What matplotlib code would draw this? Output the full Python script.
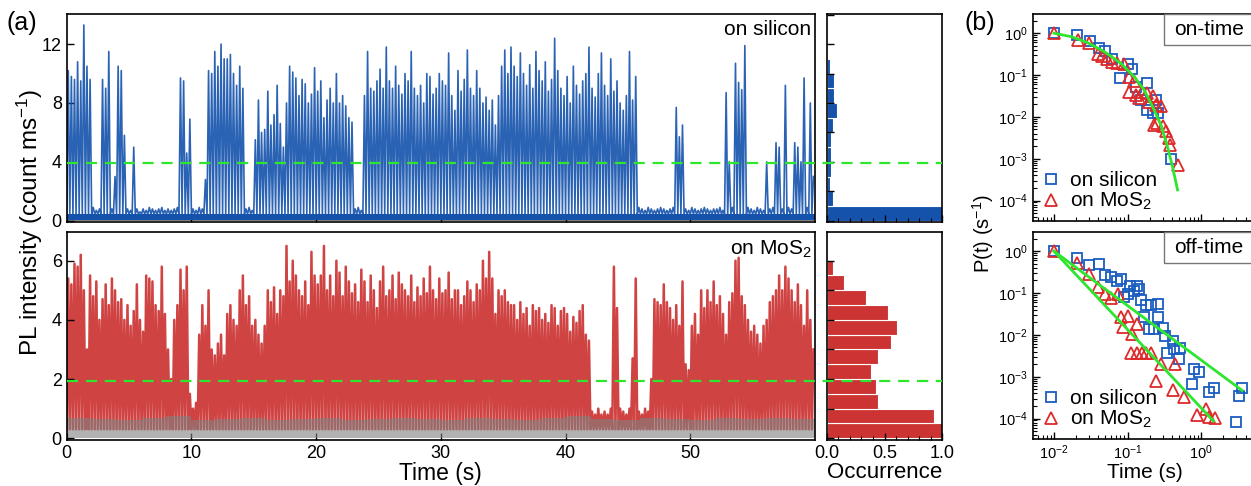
import numpy as np
import matplotlib
matplotlib.use("Agg")
import matplotlib.pyplot as plt
from matplotlib.ticker import MultipleLocator, LogLocator, NullFormatter
from matplotlib.patches import Rectangle

plt.rcParams['font.family'] = ['Liberation Sans', 'DejaVu Sans']
plt.rcParams['mathtext.fontset'] = 'custom'
plt.rcParams['mathtext.rm'] = 'Liberation Sans'
plt.rcParams['mathtext.it'] = 'Liberation Sans:italic'
plt.rcParams['mathtext.bf'] = 'Liberation Sans:bold'
plt.rcParams['xtick.direction'] = 'in'
plt.rcParams['ytick.direction'] = 'in'

# ---------------- (a) PL traces, peak count in each 0.25 s window ----------------
bin_s = 0.25
si_peak = [
    10.2, 9.8, 9.6, 10.8, 9.5, 13.3, 10.5, 9.6,
    0.9, 0.7, 0.8, 9.6, 9.0, 11.5, 0.8, 3.0,
    10.5, 10.2, 5.8, 0.8, 0.7, 5.0, 0.8, 0.6,
    0.8, 0.7, 0.9, 0.8, 0.7, 0.8, 0.9, 0.7,
    0.8, 0.7, 0.8, 0.9, 9.7, 9.5, 4.6, 6.9,
    0.8, 0.7, 0.9, 0.8, 2.8, 10.2, 10.0, 11.5,
    10.5, 12.0, 11.0, 11.0, 11.3, 10.0, 9.2, 10.5,
    9.0, 0.8, 0.9, 0.7, 5.5, 8.2, 6.0, 6.2,
    8.8, 6.5, 7.2, 9.2, 6.6, 5.0, 8.0, 10.5,
    10.1, 9.7, 8.5, 9.6, 9.3, 8.0, 8.6, 10.4,
    8.8, 9.5, 7.0, 8.2, 9.0, 8.0, 10.0, 8.0,
    8.5, 7.8, 7.0, 6.7, 0.8, 0.9, 0.7, 8.5,
    11.5, 9.0, 8.8, 9.5, 10.3, 9.0, 11.8, 9.5,
    9.0, 10.5, 9.2, 8.6, 10.0, 9.5, 11.5, 9.0,
    8.5, 9.2, 8.0, 10.0, 9.8, 8.6, 9.0, 10.0,
    9.5, 9.2, 11.4, 8.5, 7.5, 10.2, 8.8, 9.6,
    11.6, 9.0, 8.5, 10.2, 9.0, 8.0, 8.4, 7.5,
    8.2, 6.5, 8.5, 10.5, 11.6, 10.0, 11.8, 10.5,
    9.8, 11.4, 10.0, 9.2, 10.6, 9.0, 11.5, 10.2,
    9.5, 10.8, 8.8, 9.6, 12.4, 10.2, 9.0, 8.5,
    9.8, 8.0, 10.5, 9.2, 8.6, 9.5, 10.0, 11.8,
    9.0, 8.4, 10.0, 11.4, 9.2, 8.5, 11.0, 8.8,
    9.5, 8.0, 7.5, 8.5, 11.5, 8.2, 9.8, 0.9,
    0.8, 0.7, 0.9, 0.8, 0.7, 0.8, 0.9, 0.8,
    0.7, 0.8, 0.9, 7.7, 5.7, 6.5, 0.8, 0.7,
    0.9, 0.8, 0.7, 0.8, 0.9, 0.8, 0.7, 0.8,
    0.8, 0.9, 0.7, 8.7, 4.0, 0.9, 10.7, 9.4,
    8.9, 11.9, 0.9, 0.8, 0.7, 0.9, 0.8, 0.7,
    4.0, 0.8, 0.9, 5.3, 5.0, 0.8, 9.2, 0.9,
    0.8, 5.3, 5.0, 4.0, 9.7, 0.9, 8.0, 3.0,
]
mos2_peak = [
    5.4, 5.2, 5.9, 5.8, 6.2, 5.0, 3.0, 5.5,
    4.8, 5.3, 4.0, 4.7, 5.2, 4.5, 5.4, 5.0,
    4.6, 4.7, 4.0, 4.5, 3.8, 4.3, 5.2, 4.0,
    3.6, 5.5, 5.4, 5.3, 4.5, 4.3, 5.8, 4.2,
    3.0, 2.0, 4.0, 4.5, 5.7, 5.0, 5.8, 1.5,
    1.0, 1.2, 3.5, 4.5, 3.8, 5.0, 3.0, 2.8,
    3.2, 3.5, 2.8, 4.2, 4.5, 4.0, 3.8, 5.0,
    5.5, 4.5, 4.8, 3.8, 4.0, 3.5, 3.2, 3.8,
    5.0, 4.6, 5.1, 4.2, 5.0, 4.8, 6.5, 5.3,
    6.0, 5.5, 5.0, 4.8, 5.3, 4.5, 6.3, 5.5,
    5.2, 5.5, 6.5, 5.0, 5.5, 4.8, 6.0, 5.6,
    4.8, 5.8, 5.3, 4.9, 5.2, 4.6, 5.7, 5.3,
    4.6, 5.5, 5.0, 4.4, 5.3, 5.8, 4.8, 5.0,
    5.5, 4.7, 5.6, 5.2, 5.0, 4.8, 5.5, 4.6,
    5.1, 4.8, 5.4, 4.9, 5.8, 5.0, 4.7, 5.4,
    4.9, 5.0, 5.6, 4.7, 5.0, 5.0, 4.5, 4.8,
    5.3, 5.0, 4.6, 5.2, 5.0, 6.0, 5.4, 6.3,
    5.4, 4.2, 5.0, 4.8, 5.0, 4.6, 4.5, 4.5,
    4.0, 4.6, 4.2, 4.4, 3.8, 4.5, 4.3, 4.4,
    4.0, 4.2, 3.9, 4.5, 4.4, 3.8, 4.3, 4.4,
    4.2, 3.6, 4.1, 3.9, 4.3, 4.5, 3.5, 3.3,
    0.9, 0.8, 1.0, 0.8, 0.9, 0.8, 1.0, 5.8,
    4.4, 1.0, 0.9, 0.8, 1.0, 2.7, 5.4, 0.9,
    0.8, 1.0, 0.9, 2.0, 4.7, 4.6, 4.5, 5.2,
    4.6, 4.4, 4.0, 4.5, 3.8, 5.3, 2.5, 2.3,
    3.8, 4.2, 3.5, 5.0, 4.4, 5.0, 4.6, 5.3,
    4.5, 4.8, 4.2, 3.5, 4.6, 4.9, 6.0, 6.1,
    4.8, 4.5, 4.0, 3.6, 3.8, 3.5, 3.2, 3.8,
    4.0, 4.6, 4.8, 5.0, 5.5, 5.0, 5.8, 5.4,
    5.0, 4.6, 5.2, 4.5, 3.8, 5.0, 4.0, 3.0,
]
# low level the traces fall back to between peaks
si_low = 0.45
mos2_low = 0.3
# grey background traces, 2 s windows
bg_s = 2.0
si_bg = [0.4, 0.35, 0.4, 0.3, 0.35, 0.4, 0.35, 0.3, 0.4, 0.35,
         0.3, 0.4, 0.35, 0.4, 0.3, 0.35, 0.4, 0.35, 0.3, 0.4,
         0.35, 0.3, 0.4, 0.35, 0.3, 0.4, 0.35, 0.3, 0.4, 0.35]
mos2_bg = [0.7, 0.65, 0.6, 0.7, 0.75, 0.6, 0.65, 0.7, 0.6, 0.65,
           0.7, 0.6, 0.65, 0.7, 0.65, 0.6, 0.7, 0.65, 0.6, 0.7,
           0.75, 0.65, 0.6, 0.7, 0.65, 0.6, 0.7, 0.65, 0.7, 0.65]
si_thresh = 3.9
mos2_thresh = 1.95

# ---------------- (a) occurrence histograms ----------------
si_hist_edges = np.arange(0, 14, 1.0)
si_hist = [1.0, 0.058, 0.032, 0.037, 0.037, 0.035, 0.058, 0.086, 0.066, 0.066, 0.029, 0.014, 0.003]
mos2_hist_edges = np.arange(0, 7, 0.5)
mos2_hist = [1.0, 0.93, 0.44, 0.43, 0.38, 0.44, 0.556, 0.61, 0.533, 0.337, 0.15, 0.058, 0.014]

# ---------------- (b) on/off time distributions ----------------
on_si_t = [0.01, 0.0208, 0.031, 0.041, 0.050, 0.062, 0.079, 0.100, 0.113, 0.129, 0.151, 0.182, 0.186, 0.218, 0.24, 0.255, 0.386]
on_si_p = [1.0, 0.91, 0.66, 0.45, 0.38, 0.24, 0.084, 0.185, 0.138, 0.053, 0.026, 0.064, 0.0147, 0.0126, 0.026, 0.0123, 0.00097]
on_mo_t = [0.01, 0.021, 0.030, 0.039, 0.045, 0.053, 0.062, 0.072, 0.09, 0.105, 0.122, 0.105, 0.13, 0.143,
           0.158, 0.186, 0.196, 0.22, 0.24, 0.28, 0.225, 0.25, 0.30, 0.33, 0.36, 0.38, 0.48]
on_mo_p = [1.0, 0.69, 0.58, 0.31, 0.28, 0.24, 0.21, 0.19, 0.18, 0.09, 0.074, 0.04, 0.033, 0.028,
           0.04, 0.037, 0.023, 0.031, 0.019, 0.018, 0.0065, 0.007, 0.006, 0.0045, 0.0031, 0.0021, 0.0007]
on_fit_t = [0.01, 0.0169, 0.0284, 0.0479, 0.0807, 0.1225, 0.1676, 0.2295, 0.2826, 0.348, 0.407, 0.477]
on_fit_p = [1.0, 0.83, 0.60, 0.365, 0.192, 0.092, 0.0442, 0.0147, 0.00645, 0.00195, 0.00065, 0.00018]

off_si_t = [0.01, 0.0204, 0.030, 0.041, 0.050, 0.060, 0.071, 0.0807, 0.0896, 0.1, 0.108, 0.122, 0.136, 0.144,
            0.151, 0.178, 0.207, 0.255, 0.168, 0.196, 0.23, 0.26, 0.298, 0.32, 0.41, 0.348, 0.43, 0.518,
            0.5, 0.80, 0.94, 0.75, 1.26, 1.5, 2.96, 3.29, 3.57]
off_si_p = [1.0, 0.67, 0.465, 0.50, 0.27, 0.245, 0.194, 0.212, 0.081, 0.093, 0.147, 0.112, 0.147, 0.123,
            0.067, 0.052, 0.052, 0.054, 0.027, 0.0138, 0.0138, 0.027, 0.015, 0.0095, 0.0073, 0.0036, 0.0046, 0.0048,
            0.0027, 0.0015, 0.0013, 0.00066, 0.00042, 0.00055, 0.000083, 0.00035, 0.00055]
off_mo_t = [0.01, 0.0204, 0.030, 0.0398, 0.05, 0.059, 0.073, 0.0807, 0.1016, 0.0877, 0.133, 0.113, 0.11,
            0.135, 0.158, 0.178, 0.21, 0.28, 0.437, 0.24, 0.42, 0.575, 0.89, 1.16, 1.28, 1.55]
off_mo_p = [1.0, 0.53, 0.28, 0.14, 0.094, 0.078, 0.097, 0.027, 0.0285, 0.0156, 0.018, 0.0105, 0.0036,
            0.0036, 0.0036, 0.0036, 0.0036, 0.002, 0.002, 0.00079, 0.00049, 0.00032, 0.00012, 0.00017, 0.00011, 0.000105]
off_fit_si_t = [0.01, 3.6]
off_fit_si_p = [1.0, 4.7e-4]
off_fit_mo_t = [0.01, 1.47]
off_fit_mo_p = [1.0, 8.7e-5]

blue = '#1452ac'
red = '#cc3333'
lime = '#2ee62e'
grey = '#808080'

W, H = 1251, 486
fig = plt.figure(figsize=(W / 100, H / 100), dpi=100)


def box(l, t, r, b):
    return [l / W, 1 - b / H, (r - l) / W, (b - t) / H]


def trace(peaks, low):
    # each window: fall to the low level at its left edge, reach the peak at its centre
    n = len(peaks)
    x = np.empty(2 * n)
    y = np.empty(2 * n)
    x[0::2] = np.arange(n) * bin_s
    x[1::2] = np.arange(n) * bin_s + bin_s / 2
    y[0::2] = low
    y[1::2] = peaks
    return x, y


ax_si = fig.add_axes(box(66.7, 14, 815, 221.7), zorder=3)
ax_mo = fig.add_axes(box(66.7, 232.3, 815, 440), zorder=3)
hx_si = fig.add_axes(box(826.7, 14, 942.3, 221.7), zorder=2)
hx_mo = fig.add_axes(box(826.7, 232.3, 942.3, 440), zorder=2)
bx_on = fig.add_axes(box(1032.7, 14, 1262, 220.7))
bx_off = fig.add_axes(box(1032.7, 232, 1262, 438.7))

for a in fig.axes:
    for s in a.spines.values():
        s.set_linewidth(1.2)
    a.tick_params(which='major', length=5, width=1.0, labelsize=13)
    a.tick_params(which='minor', length=3, width=0.8)

# traces
bg_edges = np.arange(len(si_bg) + 1) * bg_s

ax_si.stairs(si_bg, bg_edges, fill=True, color=grey, zorder=1)
ax_si.axhspan(0.05, si_low, color=blue, lw=0, zorder=2)
xs, ys = trace(si_peak, si_low)
ax_si.plot(xs, ys, color=blue, lw=1.2, alpha=0.9, zorder=2)

xm, ym = trace(mos2_peak, mos2_low)
ax_mo.plot(xm, ym, color=red, lw=1.8, alpha=0.92, zorder=1)
ax_mo.stairs(mos2_bg, bg_edges, fill=True, color=grey, alpha=0.6, zorder=2)

xext = (942.3 - 66.7) / (815 - 66.7)
ax_si.axhline(si_thresh, 0, xext, clip_on=False, color=lime, lw=1.6, dashes=(5, 3.5), zorder=5)
ax_mo.axhline(mos2_thresh, 0, xext, clip_on=False, color=lime, lw=1.6, dashes=(5, 3.5), zorder=5)

ax_si.set_xlim(0, 60)
ax_mo.set_xlim(0, 60)
ax_si.set_ylim(-0.07, 14.05)
ax_mo.set_ylim(-0.06, 6.96)
ax_si.set_yticks([0, 4, 8, 12])
ax_mo.set_yticks([0, 2, 4, 6])
for a in (ax_si, ax_mo):
    a.set_xticks([0, 10, 20, 30, 40, 50])
ax_si.tick_params(labelbottom=False)
ax_si.text(0.995, 0.97, 'on silicon', transform=ax_si.transAxes, ha='right', va='top', fontsize=15)
ax_mo.text(0.995, 0.97, 'on MoS$_2$', transform=ax_mo.transAxes, ha='right', va='top', fontsize=15)

# histograms
hx_si.barh(si_hist_edges[:-1], si_hist, height=1.0, align='edge', color=blue, edgecolor='white', lw=0.8)
hx_mo.barh(mos2_hist_edges[:-1], mos2_hist, height=0.5, align='edge', color=red, edgecolor='white', lw=0.8)
hx_si.set_ylim(ax_si.get_ylim())
hx_mo.set_ylim(ax_mo.get_ylim())
hx_si.yaxis.set_major_locator(MultipleLocator(2))
hx_mo.yaxis.set_major_locator(MultipleLocator(1))
for a in (hx_si, hx_mo):
    a.set_xlim(0, 1)
    a.xaxis.set_major_locator(MultipleLocator(0.5))
    a.xaxis.set_minor_locator(MultipleLocator(0.1))
    a.tick_params(labelleft=False)
hx_si.tick_params(labelbottom=False)
hx_mo.set_xticks([0, 0.5, 1.0])
hx_mo.set_xticklabels(['0.0', '0.5', '1.0'])

# (b)
for a in (bx_on, bx_off):
    a.set_xscale('log')
    a.set_yscale('log')
    a.set_xlim(0.00513, 6.7)
    a.set_ylim(3.3e-5, 2.88)
    a.xaxis.set_major_locator(LogLocator(base=10, numticks=10))
    a.xaxis.set_minor_locator(LogLocator(base=10, subs=np.arange(2, 10), numticks=20))
    a.yaxis.set_major_locator(LogLocator(base=10, numticks=10))
    a.yaxis.set_minor_locator(LogLocator(base=10, subs=np.arange(2, 10), numticks=20))
    a.xaxis.set_minor_formatter(NullFormatter())
    a.yaxis.set_minor_formatter(NullFormatter())
    a.tick_params(which='major', labelsize=10.5)
bx_on.tick_params(labelbottom=False)

mk_si = dict(marker='s', ls='none', ms=7, mfc='none', mec='#1a5cc0', mew=1.3)
mk_mo = dict(marker='^', ls='none', ms=9, mfc='none', mec='#dd2a2a', mew=1.3)

bx_on.plot(on_si_t, on_si_p, label='on silicon', **mk_si)
bx_on.plot(on_mo_t, on_mo_p, label='on MoS$_2$', **mk_mo)
bx_on.plot(on_fit_t, on_fit_p, color=lime, lw=2)

bx_off.plot(off_si_t, off_si_p, label='on silicon', **mk_si)
bx_off.plot(off_mo_t, off_mo_p, label='on MoS$_2$', **mk_mo)
bx_off.plot(off_fit_si_t, off_fit_si_p, color=lime, lw=2)
bx_off.plot(off_fit_mo_t, off_fit_mo_p, color=lime, lw=2)

for a, name in ((bx_on, 'on-time'), (bx_off, 'off-time')):
    a.legend(loc='lower left', frameon=False, fontsize=15, handletextpad=0.4, labelspacing=0.05,
             borderaxespad=0.1, handlelength=1.0, borderpad=0.3)
    a.add_patch(Rectangle((0.573, 0.85), 0.6, 0.15, transform=a.transAxes, fill=False,
                          edgecolor='#777777', lw=1.0, clip_on=False, zorder=4))
    a.text(0.615, 0.925, name, transform=a.transAxes, ha='left', va='center', fontsize=15)

# labels
fig.text(0.024, 0.543, 'PL intensity (count ms$^{-1}$)', rotation=90, ha='center', va='center', fontsize=17.5)
fig.text(0.352, 0.026, 'Time (s)', ha='center', va='center', fontsize=16.5)
fig.text(0.707, 0.028, 'Occurrence', ha='center', va='center', fontsize=16)
fig.text(0.786, 0.52, 'P(t) (s$^{-1}$)', rotation=90, ha='center', va='center', fontsize=14.5)
fig.text(0.915, 0.027, 'Time (s)', ha='center', va='center', fontsize=15)
fig.text(0.005, 0.952, '(a)', ha='left', va='center', fontsize=18)
fig.text(0.771, 0.952, '(b)', ha='left', va='center', fontsize=18)

fig.savefig('out.png', dpi=100)
